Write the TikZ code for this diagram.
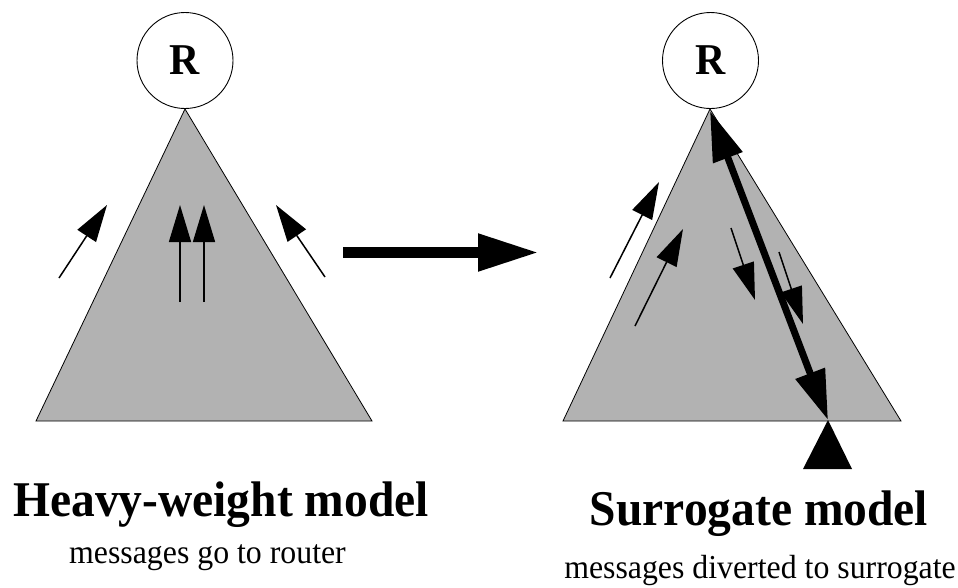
\documentclass[tikz,border=0pt]{standalone}
\usepackage{fontspec}
\setmainfont{Liberation Serif}
\usetikzlibrary{arrows.meta}
\newcommand{\narrow}[1]{\scalebox{0.95}[1]{#1}}
\begin{document}
\begin{tikzpicture}[x=1pt,y=-1pt,
  tri/.style={fill=black!30, draw=black, line width=0.8pt, line join=miter},
  router/.style={circle, draw=black, line width=0.9pt, minimum size=96pt, inner sep=0pt, fill=white,
    font=\fontsize{44}{44}\selectfont\bfseries},
  msg/.style={line width=1.5pt, -{Triangle[length=37pt,width=22pt]}},
  bigarrow/.style={line width=11pt, -{Triangle[length=61pt,width=35pt]}},
  thickarrow/.style={line width=7pt, {Triangle[length=50pt,width=30pt]}-{Triangle[length=50pt,width=30pt]}},
  heading/.style={anchor=base, inner sep=0pt, font=\fontsize{50}{50}\selectfont\bfseries},
  sub/.style={anchor=base, inner sep=0pt, font=\fontsize{33.5}{33.5}\selectfont}
]
\useasboundingbox (0,0) rectangle (958,587);

% ---------- left: heavy-weight model ----------
\coordinate (LA) at (185,109);
\coordinate (LB1) at (36,421);
\coordinate (LB2) at (372,421);
\draw[tri] (LA) -- (LB1) -- (LB2) -- cycle;
\node[router] (R1) at (185,60.5) {\narrow{R}};

\coordinate (l1s) at (59,278);  \coordinate (l1e) at (107,205);
\coordinate (l2s) at (325,277); \coordinate (l2e) at (276,205);
\coordinate (l3s) at (180,302); \coordinate (l3e) at (180,205);
\coordinate (l4s) at (204,302); \coordinate (l4e) at (204,205);
\draw[msg] (l1s) -- (l1e);
\draw[msg] (l2s) -- (l2e);
\draw[msg] (l3s) -- (l3e);
\draw[msg] (l4s) -- (l4e);

% ---------- transition arrow ----------
\coordinate (bs) at (343,252.5);
\coordinate (be) at (539,252.5);
\draw[bigarrow] (bs) -- (be);

% ---------- right: surrogate model ----------
\coordinate (RA) at (710,109);
\coordinate (RB1) at (563,421);
\coordinate (RB2) at (901,421);
\draw[tri] (RA) -- (RB1) -- (RB2) -- cycle;
\node[router] (R2) at (710.5,60.5) {\narrow{R}};

\coordinate (r1s) at (610,278); \coordinate (r1e) at (659,182);
\coordinate (r2s) at (635,326); \coordinate (r2e) at (683,229);
\coordinate (r3s) at (731,228); \coordinate (r3e) at (755,300);
\coordinate (r4s) at (779,252); \coordinate (r4e) at (803,324);
\draw[msg] (r1s) -- (r1e);
\draw[msg] (r2s) -- (r2e);
\draw[msg] (r3s) -- (r3e);
\draw[msg] (r4s) -- (r4e);

\coordinate (top) at (710,111);
\coordinate (surr) at (828,420);
\draw[thickarrow] (top) -- (surr);

\fill[black] (surr) -- (803,469) -- (852,469) -- cycle;

% ---------- captions ----------
\node[heading] (h1) at (221,516) {\narrow{Heavy-weight model}};
\node[sub] (s1) at (207.5,563) {\narrow{messages go to router}};
\node[heading] (h2) at (759,525) {\narrow{Surrogate model}};
\node[sub] (s2) at (760,578) {\narrow{messages diverted to surrogate}};
\end{tikzpicture}
\end{document}
